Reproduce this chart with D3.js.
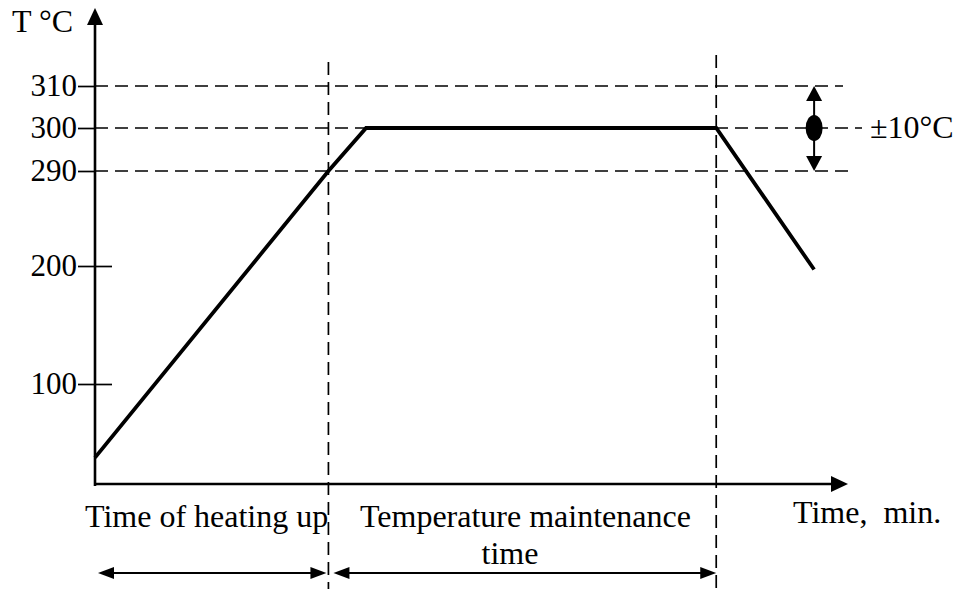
<!DOCTYPE html>
<html>
<head>
<meta charset="utf-8">
<script src="https://cdn.jsdelivr.net/npm/d3@7"></script>
<style>
  html, body { margin: 0; padding: 0; background: #fff; }
  svg { display: block; font-family: "Liberation Serif", "Times New Roman", serif; }
  text { white-space: pre; }
</style>
</head>
<body>
<div id="chart"></div>
<script>
// -------------------------
// DATA
// -------------------------
const profileTime = [0, 31, 36, 82.5, 95.5];        // min (arbitrary units)
const profileTemp = [38, 290, 300, 300, 197];       // °C
const tempTicks = [100, 200, 290, 300, 310];
const guideTemps = [310, 300, 290];
const phaseBounds = [0, 31, 82.5];                  // heating start / end, maintenance end
const phaseLabels = ["Time of heating up", "Temperature maintenance", "time"];
const toleranceLabel = "±10°C";
const axisLabelX = "Time,  min.";
const axisLabelY = "T °C";

// -------------------------
// SCALES
// -------------------------
const W = 957, H = 589;
const svg = d3.select("#chart").append("svg").attr("width", W).attr("height", H);

// x: time -> pixels, axis runs from origin to the arrow tip
const x = d3.scaleLinear().domain([0, 100]).range([95, 848]);
// y is drawn out of proportion in the original, so it is piecewise
const y = d3.scaleLinear()
  .domain([15, 100, 200, 290, 300, 310])
  .range([485, 384, 266, 171, 128, 86]);

function arrowHead(g, tipX, tipY, dir, len = 15, half = 7) {
  // dir: "up" | "down" | "left" | "right"
  let pts;
  if (dir === "up") pts = [[tipX, tipY], [tipX - half, tipY + len], [tipX + half, tipY + len]];
  if (dir === "down") pts = [[tipX, tipY], [tipX - half, tipY - len], [tipX + half, tipY - len]];
  if (dir === "left") pts = [[tipX, tipY], [tipX + len, tipY - half], [tipX + len, tipY + half]];
  if (dir === "right") pts = [[tipX, tipY], [tipX - len, tipY - half], [tipX - len, tipY + half]];
  g.append("path").attr("d", d3.line()(pts) + "Z").attr("fill", "#000");
}

// -------------------------
// GUIDES (dashed)
// -------------------------
const dash = "13,7";
const guideEnd = { 310: 843, 300: 862, 290: 850 };
svg.append("g").selectAll("line").data(guideTemps).enter().append("line")
  .attr("x1", x(0)).attr("x2", d => guideEnd[d])
  .attr("y1", d => y(d)).attr("y2", d => y(d))
  .attr("stroke", "#000").attr("stroke-width", 1.7).attr("stroke-dasharray", dash);

const vTop = [62, 55];
svg.append("g").selectAll("line").data(phaseBounds.slice(1)).enter().append("line")
  .attr("x1", d => x(d)).attr("x2", d => x(d))
  .attr("y1", (d, i) => vTop[i]).attr("y2", H)
  .attr("stroke", "#000").attr("stroke-width", 1.7).attr("stroke-dasharray", dash);

// -------------------------
// AXES
// -------------------------
const yAxis = d3.axisLeft(y).tickValues(tempTicks).tickSizeInner(17).tickSizeOuter(0).tickPadding(1);
const gy = svg.append("g").attr("transform", `translate(${x(0)},0)`).call(yAxis);
gy.select(".domain").remove();
gy.selectAll(".tick line").attr("stroke-width", 1.7);
gy.selectAll(".tick text").attr("font-size", 31).attr("font-family", "Liberation Serif").attr("fill", "#000");
// 100 and 200 ticks cross the axis
gy.selectAll(".tick").filter(d => d <= 200).append("line")
  .attr("x2", 17).attr("stroke", "#000").attr("stroke-width", 1.7);

svg.append("line").attr("x1", x(0)).attr("x2", x(0)).attr("y1", y(15) + 1).attr("y2", 20)
  .attr("stroke", "#000").attr("stroke-width", 2.6);
arrowHead(svg, x(0), 8, "up", 17, 8);

svg.append("line").attr("x1", x(0) - 1).attr("x2", x(100) - 14).attr("y1", 484).attr("y2", 484)
  .attr("stroke", "#000").attr("stroke-width", 2.6);
arrowHead(svg, x(100), 484, "right", 17, 8);

svg.append("text").attr("x", 12).attr("y", 32).attr("font-size", 32).text(axisLabelY);
svg.append("text").attr("x", 793).attr("y", 523).attr("font-size", 32).text(axisLabelX);

// -------------------------
// TEMPERATURE PROFILE
// -------------------------
const profile = profileTime.map((t, i) => [x(t), y(profileTemp[i])]);
svg.append("path").attr("d", d3.line()(profile))
  .attr("fill", "none").attr("stroke", "#000").attr("stroke-width", 3.8)
  .attr("stroke-linejoin", "miter");

// -------------------------
// TOLERANCE MARK
// -------------------------
const tolX = x(95.5);
svg.append("line").attr("x1", tolX).attr("x2", tolX).attr("y1", y(310) + 12).attr("y2", y(290) - 12)
  .attr("stroke", "#000").attr("stroke-width", 2);
arrowHead(svg, tolX, y(310), "up", 15, 8);
arrowHead(svg, tolX, y(290), "down", 15, 8);
svg.append("ellipse").attr("cx", tolX).attr("cy", y(300)).attr("rx", 8.5).attr("ry", 13).attr("fill", "#000");
svg.append("text").attr("x", 870).attr("y", 138).attr("font-size", 32).text(toleranceLabel);

// -------------------------
// PHASE LABELS + SPANS
// -------------------------
svg.append("text").attr("x", 85).attr("y", 527).attr("font-size", 32).text(phaseLabels[0]);
svg.append("text").attr("x", 360).attr("y", 527).attr("font-size", 32).text(phaseLabels[1]);
svg.append("text").attr("x", 510).attr("y", 564).attr("text-anchor", "middle").attr("font-size", 32).text(phaseLabels[2]);

const spanY = 573;
const spans = [[x(phaseBounds[0]) + 3, x(phaseBounds[1]) - 2], [x(phaseBounds[1]) + 5, x(phaseBounds[2])]];
spans.forEach(([a, b]) => {
  svg.append("line").attr("x1", a + 10).attr("x2", b - 10).attr("y1", spanY).attr("y2", spanY)
    .attr("stroke", "#000").attr("stroke-width", 2);
  arrowHead(svg, a, spanY, "left", 16, 6);
  arrowHead(svg, b, spanY, "right", 16, 6);
});
</script>
</body>
</html>
